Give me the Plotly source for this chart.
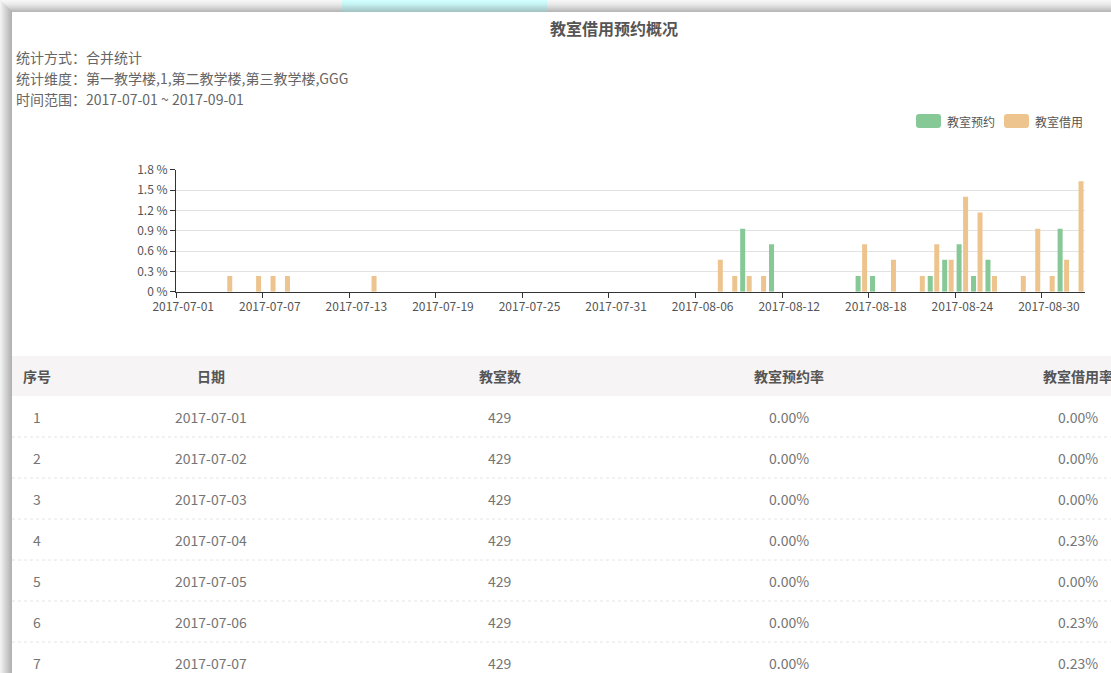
import pandas as pd
import plotly.graph_objects as go

W, H = 1111, 673
FONT = "Noto Sans CJK SC"

# ---- data -------------------------------------------------------------
dates = [d.strftime("%Y-%m-%d") for d in pd.date_range("2017-07-01", "2017-09-01", freq="D")]

# classroom reservation rate (%), one value per day
reserve_rate = [
    0, 0, 0, 0, 0, 0, 0,
    0, 0, 0, 0, 0, 0, 0,
    0, 0, 0, 0, 0, 0, 0,
    0, 0, 0, 0, 0, 0, 0,
    0, 0, 0, 0, 0, 0, 0,
    0, 0, 0, 0, 0.93, 0, 0.70,
    0, 0, 0, 0, 0, 0.23, 0.23,
    0, 0, 0, 0.23, 0.47, 0.70, 0.23,
    0.47, 0, 0, 0, 0, 0.93, 0,
]

# classroom borrowing rate (%), one value per day
borrow_rate = [
    0, 0, 0, 0.23, 0, 0.23, 0.23,
    0.23, 0, 0, 0, 0, 0, 0.23,
    0, 0, 0, 0, 0, 0, 0,
    0, 0, 0, 0, 0, 0, 0,
    0, 0, 0, 0, 0, 0, 0,
    0, 0, 0.47, 0.23, 0.23, 0.23, 0,
    0, 0, 0, 0, 0, 0.70, 0,
    0.47, 0, 0.23, 0.70, 0.47, 1.40, 1.17,
    0.23, 0, 0.23, 0.93, 0.23, 0.47, 1.63,
]

room_count = [429, 429, 429, 429, 429, 429, 429]

y_ticks = [0, 0.3, 0.6, 0.9, 1.2, 1.5, 1.8]
y_tick_text = ["0 %", "0.3 %", "0.6 %", "0.9 %", "1.2 %", "1.5 %", "1.8 %"]

series_names = ["教室预约", "教室借用"]
series_colors = ["#86c896", "#edc48e"]

title_text = "教室借用预约概况"
info_lines = [
    "统计方式：合并统计",
    "统计维度：第一教学楼,1,第二教学楼,第三教学楼,GGG",
    "时间范围：2017-07-01 ~ 2017-09-01",
]
table_headers = ["序号", "日期", "教室数", "教室预约率", "教室借用率"]


def px(x):
    return x / W


def py(y):
    return 1 - y / H


# ---- figure -----------------------------------------------------------
fig = go.Figure()
fig.add_trace(go.Bar(x=dates, y=reserve_rate, name=series_names[0],
                     marker=dict(color=series_colors[0], line=dict(width=0)),
                     hoverinfo="skip", showlegend=False))
fig.add_trace(go.Bar(x=dates, y=borrow_rate, name=series_names[1],
                     marker=dict(color=series_colors[1], line=dict(width=0)),
                     hoverinfo="skip", showlegend=False))

shapes = []
annotations = []

# page chrome: top bar, tab and left edge shading
top_grad = ["#f6f6f6", "#f3f3f3", "#f0f0f0", "#ececec", "#e8e8e8", "#e2e2e2",
            "#dcdcdc", "#d5d5d5", "#cecece", "#c6c6c6", "#bebebe", "#b8b8b8"]
for i, c in enumerate(top_grad):
    shapes.append(dict(type="rect", xref="paper", yref="paper", layer="above",
                       x0=px(0), x1=px(W), y0=py(i + 1), y1=py(i),
                       fillcolor=c, line=dict(width=0)))
tab_grad = ["#d2fdfd", "#cefbfb", "#cbf8f8", "#c8f5f5", "#c4f0f0", "#c0eaea",
            "#bce3e3", "#b7dcdc", "#b2d5d5", "#adcfcf", "#a8c9c9", "#a4c4c4"]
for i, c in enumerate(tab_grad):
    shapes.append(dict(type="rect", xref="paper", yref="paper", layer="above",
                       x0=px(342), x1=px(547), y0=py(i + 1), y1=py(i),
                       fillcolor=c, line=dict(width=0)))
left_grad = ["#f2f2f2", "#ececec", "#e6e6e6", "#e0e0e0", "#dadada", "#d4d4d4",
             "#cecece", "#c8c8c8", "#c2c2c2", "#bcbcbc", "#b6b6b6", "#b2b2b2"]
for i, c in enumerate(left_grad):
    shapes.append(dict(type="rect", xref="paper", yref="paper", layer="above",
                       x0=px(i), x1=px(i + 1), y0=py(H), y1=py(min(i, 12)),
                       fillcolor=c, line=dict(width=0)))

# title and filter description
annotations.append(dict(text=f"<b>{title_text}</b>", x=px(614.5), y=py(28),
                        xref="paper", yref="paper", xanchor="center", yanchor="middle",
                        showarrow=False, font=dict(family=FONT, size=16, color="#555555")))
for i, line in enumerate(info_lines):
    annotations.append(dict(text=line, x=px(14), y=py(57 + 21 * i),
                            xref="paper", yref="paper", xanchor="left", yanchor="middle",
                            showarrow=False, font=dict(family=FONT, size=14, color="#666666")))


# legend built from rounded swatches
def rounded_rect(x0, y0, x1, y1, r):
    pts = [
        f"M {px(x0 + r)},{py(y0)}", f"L {px(x1 - r)},{py(y0)}",
        f"Q {px(x1)},{py(y0)} {px(x1)},{py(y0 + r)}", f"L {px(x1)},{py(y1 - r)}",
        f"Q {px(x1)},{py(y1)} {px(x1 - r)},{py(y1)}", f"L {px(x0 + r)},{py(y1)}",
        f"Q {px(x0)},{py(y1)} {px(x0)},{py(y1 - r)}", f"L {px(x0)},{py(y0 + r)}",
        f"Q {px(x0)},{py(y0)} {px(x0 + r)},{py(y0)}", "Z",
    ]
    return " ".join(pts)


legend_x = [916, 1004]
for lx, name, color in zip(legend_x, series_names, series_colors):
    shapes.append(dict(type="path", xref="paper", yref="paper", layer="above",
                       path=rounded_rect(lx, 114, lx + 25, 128, 3),
                       fillcolor=color, line=dict(width=0)))
    annotations.append(dict(text=name, x=px(lx + 29), y=py(121), xref="paper", yref="paper",
                            xanchor="left", yanchor="middle", showarrow=False,
                            font=dict(family=FONT, size=12, color="#555555")))

# data table below the chart
col_centers = [37, 211, 500, 789, 1078]
shapes.append(dict(type="rect", xref="paper", yref="paper", layer="below",
                   x0=px(12), x1=px(W), y0=py(396), y1=py(356),
                   fillcolor="#f6f4f5", line=dict(width=0)))
for cx, head in zip(col_centers, table_headers):
    annotations.append(dict(text=f"<b>{head}</b>", x=px(cx), y=py(376),
                            xref="paper", yref="paper", xanchor="center", yanchor="middle",
                            showarrow=False, font=dict(family=FONT, size=14, color="#555555")))

row_h = 41
for i, cnt in enumerate(room_count):
    yc = 417 + row_h * i
    cells = [str(i + 1), dates[i], str(cnt),
             f"{reserve_rate[i]:.2f}%", f"{borrow_rate[i]:.2f}%"]
    for cx, val in zip(col_centers, cells):
        annotations.append(dict(text=val, x=px(cx), y=py(yc),
                                xref="paper", yref="paper", xanchor="center", yanchor="middle",
                                showarrow=False, font=dict(family=FONT, size=14, color="#757575")))
    sep = yc + 20
    if sep < H:
        shapes.append(dict(type="line", xref="paper", yref="paper", layer="below",
                           x0=px(12), x1=px(W), y0=py(sep), y1=py(sep),
                           line=dict(color="#e4e4e4", width=1, dash="3px,3px")))

fig.update_layout(
    width=W, height=H, autosize=False,
    margin=dict(l=0, r=0, t=0, b=0, pad=0),
    paper_bgcolor="white", plot_bgcolor="white",
    barmode="group", bargap=0.099, bargroupgap=0.23,
    showlegend=False,
    shapes=shapes, annotations=annotations,
    font=dict(family=FONT, color="#555555"),
    xaxis=dict(
        type="category", domain=[px(176), px(1085)], range=[-0.5, len(dates) - 0.5],
        tickmode="linear", tick0=0, dtick=6, tickson="boundaries", tickangle=0,
        ticks="outside", ticklen=5, tickcolor="#333333", tickwidth=1,
        ticklabelstandoff=4,
        showline=True, linecolor="#333333", linewidth=1, showgrid=False,
        automargin=False,
        tickfont=dict(family=FONT, size=12, color="#555555"), fixedrange=True,
    ),
    yaxis=dict(
        domain=[py(291.7), py(169.7)], range=[0, 1.8],
        tickmode="array", tickvals=y_ticks, ticktext=y_tick_text,
        ticks="outside", ticklen=5, tickcolor="#333333", tickwidth=1,
        showline=True, linecolor="#333333", linewidth=1,
        showgrid=True, gridcolor="#e2e2e2", gridwidth=1, zeroline=False,
        automargin=False,
        tickfont=dict(family=FONT, size=12, color="#555555"), fixedrange=True,
    ),
)

# the page body keeps no default margin so the figure fills the window exactly
fig.write_html(
    "out.html",
    config={"displayModeBar": False},
    post_script="document.body.style.margin='0';document.body.style.overflow='hidden';",
)
